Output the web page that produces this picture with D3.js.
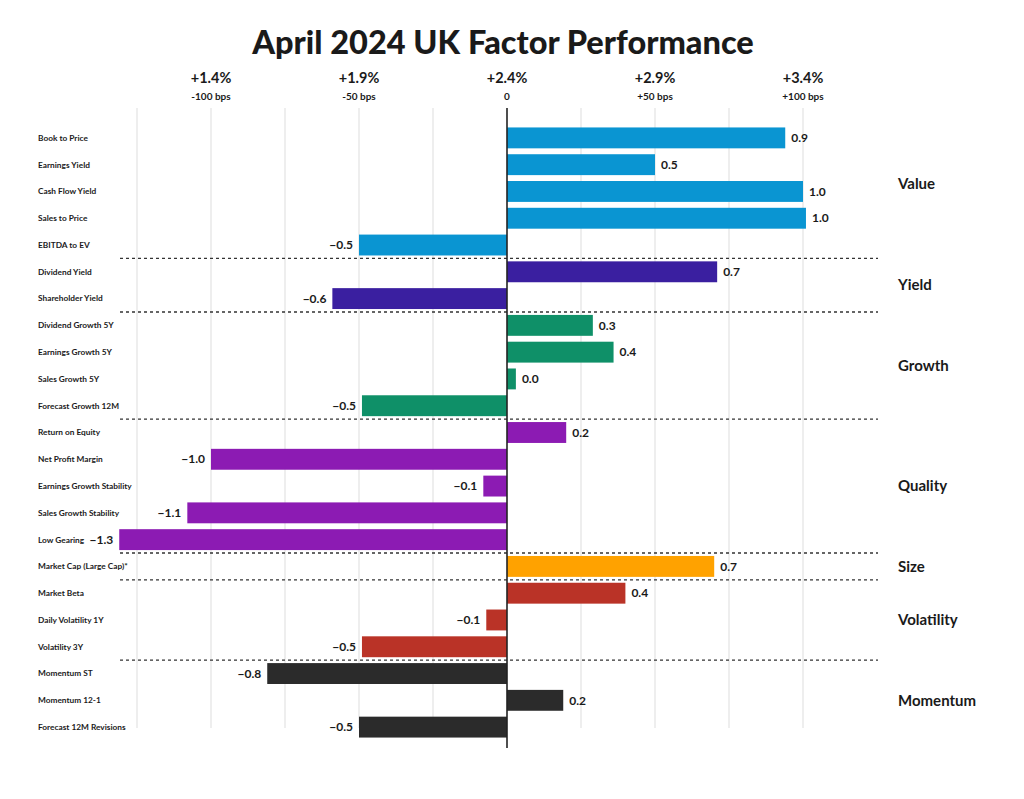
<!DOCTYPE html>
<html>
<head>
<meta charset="utf-8">
<script src="https://cdn.jsdelivr.net/npm/d3@7"></script>
<style>
  body { margin: 0; background: #fff; }
  text { font-family: Lato, "Open Sans", sans-serif; fill: #1a1a1a; }
</style>
</head>
<body>
<script>
// factor names, top to bottom
var factors = ["Book to Price", "Earnings Yield", "Cash Flow Yield", "Sales to Price", "EBITDA to EV",
  "Dividend Yield", "Shareholder Yield",
  "Dividend Growth 5Y", "Earnings Growth 5Y", "Sales Growth 5Y", "Forecast Growth 12M",
  "Return on Equity", "Net Profit Margin", "Earnings Growth Stability", "Sales Growth Stability", "Low Gearing",
  "Market Cap (Large Cap)*",
  "Market Beta", "Daily Volatility 1Y", "Volatility 3Y",
  "Momentum ST", "Momentum 12-1", "Forecast 12M Revisions"];

// relative performance (%) vs market
var values = [0.94, 0.50, 1.00, 1.01, -0.50,
  0.71, -0.59,
  0.29, 0.36, 0.03, -0.49,
  0.20, -1.00, -0.08, -1.08, -1.31,
  0.70,
  0.40, -0.07, -0.49,
  -0.81, 0.19, -0.50];

var groupNames = ["Value", "Yield", "Growth", "Quality", "Size", "Volatility", "Momentum"];
var groupSizes = [5, 2, 4, 5, 1, 3, 3];
var groupColors = ["#0a95d2", "#3a1fa0", "#0f9068", "#8c1bb3", "#ffa200", "#ba3327", "#2b2b2b"];

var tickValues = [-1, -0.5, 0, 0.5, 1];
var tickPct = ["+1.4%", "+1.9%", "+2.4%", "+2.9%", "+3.4%"];
var tickBps = ["-100 bps", "-50 bps", "0", "+50 bps", "+100 bps"];

var width = 1024, height = 799;

var svg = d3.select("body").append("svg")
    .attr("width", width)
    .attr("height", height);

// group index for every row
var groupOf = [];
groupSizes.forEach(function(n, g) { for (var i = 0; i < n; i++) groupOf.push(g); });

var x = d3.scaleLinear().domain([-1, 1]).range([211, 803]);

var y = d3.scaleBand()
    .domain(factors)
    .range([124.5, 740.5])
    .paddingInner(0.22)
    .paddingOuter(0.11);

// title
svg.append("text")
    .attr("x", 503).attr("y", 54)
    .attr("text-anchor", "middle")
    .style("font-size", "32.5px").style("font-weight", 900)
    .text("April 2024 UK Factor Performance");

// gridlines every 25bps
svg.append("g").selectAll("line")
    .data(d3.range(-1.25, 1.01, 0.25).filter(function(d) { return Math.abs(d) > 0.01; }))
    .enter().append("line")
    .attr("x1", function(d) { return x(d); })
    .attr("x2", function(d) { return x(d); })
    .attr("y1", 108).attr("y2", 728)
    .attr("stroke", "#e3e3e3").attr("stroke-width", 1.2);

// top axis labels
var ax = svg.append("g").selectAll("g")
    .data(tickValues).enter().append("g")
    .attr("transform", function(d) { return "translate(" + x(d) + ",0)"; });
ax.append("text")
    .attr("y", 83).attr("text-anchor", "middle")
    .style("font-size", "14.5px").style("font-weight", 700)
    .text(function(d, i) { return tickPct[i]; });
ax.append("text")
    .attr("y", 100).attr("text-anchor", "middle")
    .style("font-size", "10px").style("font-weight", 700)
    .text(function(d, i) { return tickBps[i]; });

// bars
svg.append("g").selectAll("rect")
    .data(values).enter().append("rect")
    .attr("x", function(d) { return x(Math.min(0, d)); })
    .attr("y", function(d, i) { return y(factors[i]); })
    .attr("width", function(d) { return Math.abs(x(d) - x(0)); })
    .attr("height", y.bandwidth())
    .attr("fill", function(d, i) { return groupColors[groupOf[i]]; });

// value labels
var fmt = d3.format(".1f");
svg.append("g").selectAll("text")
    .data(values).enter().append("text")
    .attr("x", function(d) { return d < 0 ? x(d) - 6 : x(d) + 6; })
    .attr("y", function(d, i) { return y(factors[i]) + y.bandwidth() / 2; })
    .attr("dy", "0.35em")
    .attr("text-anchor", function(d) { return d < 0 ? "end" : "start"; })
    .style("font-size", "12px").style("font-weight", 700)
    .text(function(d) { return fmt(d); });

// factor names
svg.append("g").selectAll("text")
    .data(factors).enter().append("text")
    .attr("x", 38)
    .attr("y", function(d) { return y(d) + y.bandwidth() / 2; })
    .attr("dy", "0.35em")
    .style("font-size", "8.3px").style("font-weight", 700)
    .text(function(d) { return d; });

// dashed separators between groups + group labels
var step = y.step();
var start = 0;
groupSizes.forEach(function(n, g) {
  var first = factors[start], last = factors[start + n - 1];
  var cy = (y(first) + y(last) + y.bandwidth()) / 2;
  svg.append("text")
    .attr("x", 898).attr("y", g === 0 ? cy - 8 : cy).attr("dy", "0.35em")
    .style("font-size", "15px").style("font-weight", 700)
    .text(groupNames[g]);
  start += n;
  if (start < factors.length) {
    var ly = y(last) + y.bandwidth() + (step - y.bandwidth()) / 2;
    svg.append("line")
      .attr("x1", 120).attr("x2", 878)
      .attr("y1", ly).attr("y2", ly)
      .attr("stroke", "#333").attr("stroke-width", 1.3)
      .attr("stroke-dasharray", "3,3");
  }
});

// zero axis
svg.append("line")
    .attr("x1", x(0)).attr("x2", x(0))
    .attr("y1", 108).attr("y2", 748)
    .attr("stroke", "#222").attr("stroke-width", 1.6);
</script>
</body>
</html>
